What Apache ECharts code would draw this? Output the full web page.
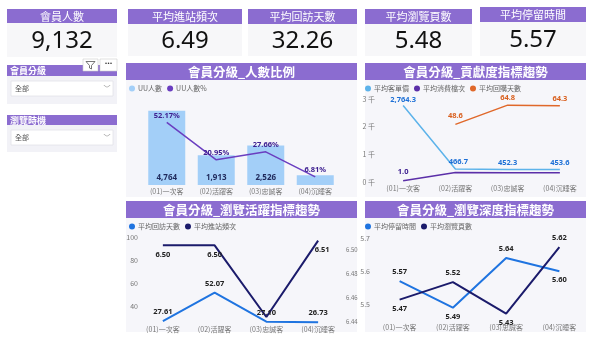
<!DOCTYPE html>
<html><head><meta charset="utf-8">
<script src="https://cdn.jsdelivr.net/npm/echarts@6/dist/echarts.min.js"></script>
<style>html,body{margin:0;padding:0;background:#fff}#c{width:590px;height:338px}</style>
</head><body><div id="c"></div>
<script>
// ---- data ----
const categories = ['(01)一次客', '(02)活躍客', '(03)忠誠客', '(04)沉睡客'];
const kpiTitles = ['會員人數', '平均進站頻次', '平均回訪天數', '平均瀏覽頁數', '平均停留時間'];
const kpiValues = ['9,132', '6.49', '32.26', '5.48', '5.57'];
const slicerTitles = ['會員分級', '瀏覽時機'];
const slicerValues = ['全部', '全部'];
const chartTitles = ['會員分級_人數比例', '會員分級_貢獻度指標趨勢', '會員分級_瀏覽活躍指標趨勢', '會員分級_瀏覽深度指標趨勢'];
const uuCount = [4764, 1913, 2526, 622];
const uuPct = [52.17, 20.95, 27.66, 6.81];
const avgOrderValue = [2764.3, 466.7, 452.3, 453.6];
const avgSpendTier = [1.0, 8.0, 7.8, 7.8];
const avgRepurchaseDays = [null, 48.6, 64.8, 64.3];
const avgRevisitDays = [27.61, 52.07, 27.10, 26.73];
const avgVisitFreq = [6.504, 6.504, 6.444, 6.508];
const avgStayTime = [5.57, 5.49, 5.64, 5.60];
const avgPageViews = [5.47, 5.52, 5.43, 5.62];
const ticksThousand = [0, 1000, 2000, 3000];
const ticksRevisit = [40, 60, 80, 100];
const ticksFreq = [6.44, 6.46, 6.48, 6.50];
const ticksStay = [5.5, 5.6, 5.7];

// ---- style ----
const PURPLE = '#8b6cd0';
const PANEL = '#f6f6fa';
const CJK = '"Noto Sans CJK TC", "Noto Sans", sans-serif';
const NUMF = '"Noto Sans", "DejaVu Sans", sans-serif';

const G = [];
function rect(x, y, w, h, fill, extra) {
  G.push(Object.assign({type: 'rect', shape: {x, y, width: w, height: h}, style: {fill}, z: 0, silent: true}, extra || {}));
}
function text(x, y, s, st) {
  G.push({type: 'text', x, y, z: 10, silent: true,
    style: Object.assign({text: s, align: 'center', verticalAlign: 'middle', fill: '#fff', font: '12px ' + CJK}, st)});
}
// KPI cards
const kpiBoxes = [[7, 110, 9, 23, 57], [128, 114, 9, 24, 56], [248, 109, 9, 24, 56], [365, 107, 9, 24, 56], [480, 106, 7, 22, 56]];
kpiBoxes.forEach((b, i) => {
  const [x, w, y0, y1, y2] = b;
  rect(x, y0, w, y1 - y0, PURPLE);
  rect(x, y1, w, y2 - y1, '#f7f7f9');
  text(x + w / 2, (y0 + y1) / 2 + 0.5, kpiTitles[i], {font: '11px ' + CJK});
  text(x + w / 2, (y1 + y2) / 2 + 1.5, kpiValues[i], {font: '24px ' + NUMF, fill: '#111'});
});
// slicers
const slicerBoxes = [[65, 76, 104], [115, 125, 152]];
slicerBoxes.forEach((b, i) => {
  const [y0, y1, y2] = b;
  rect(7, y0, 110, y1 - y0, PURPLE);
  rect(7, y1, 110, y2 - y1, '#f2f2f7');
  text(10, (y0 + y1) / 2 + 0.5, slicerTitles[i], {font: 'bold 9px ' + CJK, align: 'left'});
  rect(11, y1 + 5, 102, 15, '#fff', {style: {fill: '#fff', stroke: '#e2e2e8', lineWidth: 0.8}});
  text(15, y1 + 12.5, slicerValues[i], {font: '7px ' + CJK, fill: '#555', align: 'left'});
  text(107, y1 + 12.5, '﹀', {font: '7px ' + CJK, fill: '#888'});
});
// filter / more icons
rect(83, 59, 15, 12, '#fff', {z: 5, style: {fill: '#fff', stroke: '#ccc', lineWidth: 0.6}});
rect(100, 59, 17, 12, '#fff', {z: 5, style: {fill: '#fff', stroke: '#ccc', lineWidth: 0.6}});
G.push({type: 'polyline', z: 11, silent: true, shape: {points: [[86, 61.5], [95, 61.5], [91.5, 65.5], [91.5, 69], [89.5, 68], [89.5, 65.5], [86, 61.5]]}, style: {stroke: '#555', fill: 'none', lineWidth: 0.8}});
text(108.5, 63, '···', {font: 'bold 9px ' + NUMF, fill: '#333'});
// chart panels
const panels = [[126, 63, 231, 134], [365, 63, 221, 134], [126, 201, 231, 131], [365, 201, 221, 131]];
panels.forEach((p, i) => {
  const [x, y, w, h] = p;
  rect(x, y, w, h, PANEL);
  rect(x, y, w, 17, PURPLE);
  text(x + w / 2, y + 9, chartTitles[i], {font: 'bold 12.5px ' + CJK});
});

const axisLbl = {fontSize: 7, color: '#777', fontFamily: CJK};
function cat(gi) {
  return {type: 'category', gridIndex: gi, data: categories, boundaryGap: true,
    axisLine: {show: false}, axisTick: {show: false},
    axisLabel: Object.assign({margin: 3, interval: 0}, axisLbl)};
}
function lbl(color, fmt, size) {
  return {show: true, color, fontWeight: 'bold', fontSize: size || 7.5, fontFamily: NUMF, formatter: fmt};
}
function pts(vals, positions, offsets) {
  return vals.map((v, i) => ({value: v, label: positions[i] ? {show: true, position: positions[i], offset: (offsets && offsets[i]) || [0, 0]} : {show: false}}));
}
const f2 = p => p.value == null ? '' : Number(p.value).toFixed(2);
const legendBase = {itemWidth: 6, itemHeight: 6, itemGap: 5, padding: 0, icon: 'circle', textStyle: {fontSize: 7, color: '#666', fontFamily: CJK, padding: [0, 0, 0, -2]}};
function lineS(name, xi, yi, color, width, vals, pos, fmt, lcolor, offs) {
  return {name, type: 'line', xAxisIndex: xi, yAxisIndex: yi, symbol: 'circle', symbolSize: 0.01, showAllSymbol: true,
    itemStyle: {color}, lineStyle: {width, color}, z: 5, data: pts(vals, pos, offs), label: lbl(lcolor, fmt)};
}

const option = {
  animation: false,
  backgroundColor: '#fff',
  graphic: {elements: G},
  legend: [
    Object.assign({left: 129, top: 85, data: ['UU人數', 'UU人數%']}, legendBase),
    Object.assign({left: 365, top: 85, data: ['平均客單價', '平均消費檔次', '平均回購天數']}, legendBase),
    Object.assign({left: 129, top: 223, data: ['平均回訪天數', '平均進站頻次']}, legendBase),
    Object.assign({left: 365, top: 223, data: ['平均停留時間', '平均瀏覽頁數']}, legendBase)
  ],
  grid: [
    {left: 142, width: 198, top: 107, height: 78},
    {left: 377, width: 209, top: 99, height: 83},
    {left: 137, width: 207, top: 237, height: 86},
    {left: 373, width: 213, top: 238, height: 83}
  ],
  xAxis: [cat(0), cat(1), cat(2), cat(3)],
  yAxis: [
    {gridIndex: 0, min: 0, max: 5000, show: false, splitLine: {show: false}},
    {gridIndex: 0, min: 0, max: 65, show: false, splitLine: {show: false}},
    {gridIndex: 1, min: 0, max: 3000, splitLine: {show: false}, axisLine: {show: false}, axisTick: {show: false},
      axisLabel: Object.assign({margin: 2, customValues: ticksThousand, formatter: v => (v / 1000) + ' 千'}, axisLbl)},
    {gridIndex: 1, min: 0, max: 70, show: false, splitLine: {show: false}},
    {gridIndex: 2, min: 26, max: 100, splitLine: {show: false}, axisLine: {show: false}, axisTick: {show: false},
      axisLabel: Object.assign({margin: -1, customValues: ticksRevisit}, axisLbl)},
    {gridIndex: 2, min: 6.439, max: 6.511, position: 'right', splitLine: {show: false}, axisLine: {show: false}, axisTick: {show: false},
      axisLabel: Object.assign({margin: 2, customValues: ticksFreq, formatter: v => v.toFixed(2)}, axisLbl, {fontSize: 6})},
    {gridIndex: 3, min: 5.45, max: 5.7, splitLine: {show: false}, axisLine: {show: false}, axisTick: {show: false},
      axisLabel: Object.assign({margin: 3, customValues: ticksStay, formatter: v => v.toFixed(1)}, axisLbl)},
    {gridIndex: 3, min: 5.409, max: 5.646, show: false, splitLine: {show: false}}
  ],
  series: [
    {name: 'UU人數', type: 'bar', xAxisIndex: 0, yAxisIndex: 0, barWidth: 37, itemStyle: {color: '#a3cff8'},
      data: pts(uuCount, ['insideBottom', 'insideBottom', 'insideBottom', null]),
      label: Object.assign(lbl('#1f2a5c', p => p.value.toLocaleString('en-US'), 8), {distance: 3})},
    lineS('UU人數%', 0, 1, '#6a3ec0', 1.5, uuPct, ['top', 'top', 'top', 'top'], p => p.value.toFixed(2) + '%', '#3f2191', [[0, 2], [0, 2], [0, 2], [0, 2]]),
    lineS('平均客單價', 1, 2, '#5db3ea', 1.5, avgOrderValue, ['top', 'top', 'top', 'top'],
      p => p.value.toLocaleString('en-US', {minimumFractionDigits: 1, maximumFractionDigits: 1}), '#1c6fd6', [[0, 3], [3, 2], [0, 2], [0, 2]]),
    lineS('平均消費檔次', 1, 3, '#5b2fa8', 1.5, avgSpendTier, ['top', null, null, null], p => p.value.toFixed(1), '#3f2191'),
    lineS('平均回購天數', 1, 3, '#e0682a', 1.5, avgRepurchaseDays, [null, 'top', 'top', 'top'], p => p.value == null ? '' : p.value.toFixed(1), '#d9601f', [[0, 0], [0, 0], [0, 2], [0, 2]]),
    lineS('平均回訪天數', 2, 4, '#1f74e0', 2, avgRevisitDays, ['top', 'top', 'top', 'top'], f2, '#222'),
    lineS('平均進站頻次', 2, 5, '#1b1b6b', 2, avgVisitFreq, ['bottom', 'bottom', null, 'bottom'], f2, '#222', [[0, 0], [0, 0], [0, 0], [4, 0]]),
    lineS('平均停留時間', 3, 6, '#1f74e0', 2, avgStayTime, ['top', 'bottom', 'top', 'bottom'], f2, '#222'),
    lineS('平均瀏覽頁數', 3, 7, '#1b1b6b', 2, avgPageViews, ['bottom', 'top', 'bottom', 'top'], f2, '#222')
  ]
};
const chart = echarts.init(document.getElementById('c'), null, {renderer: 'canvas'});
chart.setOption(option);
</script></body></html>
